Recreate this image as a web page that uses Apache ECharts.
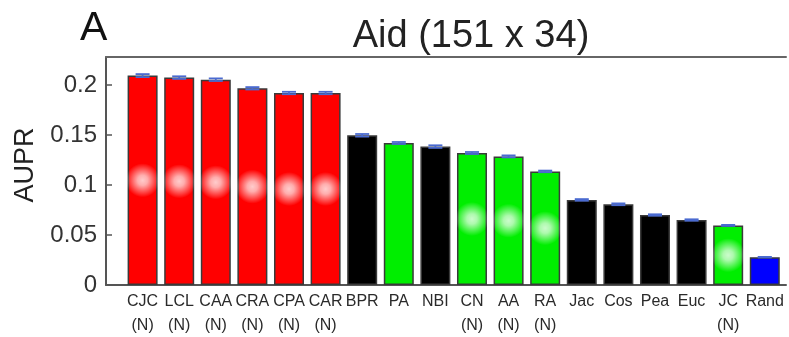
<!DOCTYPE html>
<html>
<head>
<meta charset="utf-8">
<script src="https://cdn.jsdelivr.net/npm/echarts@6/dist/echarts.min.js"></script>
<style>
html,body{margin:0;padding:0;background:#fff;}
#chart{width:789px;height:337px;}
</style>
</head>
<body>
<div id="chart"></div>
<script>
// ---- data ----
var methods = ['CJC','LCL','CAA','CRA','CPA','CAR','BPR','PA','NBI','CN','AA','RA','Jac','Cos','Pea','Euc','JC','Rand'];
var normalized = [true,true,true,true,true,true,false,false,false,true,true,true,false,false,false,false,true,false];
var kind = ['new','new','new','new','new','new','other','classic','other','classic','classic','classic','other','other','other','other','classic','random'];
var aupr = [0.2094,0.2074,0.2053,0.1967,0.1920,0.1920,0.1497,0.1420,0.1384,0.1320,0.1286,0.1136,0.0851,0.0807,0.0700,0.0650,0.0596,0.0278];
var errs = [0.0015,0.0013,0.0013,0.0012,0.0012,0.0012,0.0013,0.0010,0.0013,0.0010,0.0010,0.0008,0.0008,0.0009,0.0007,0.0007,0.0005,0.0003];
var yTicks = [0, 0.05, 0.1, 0.15, 0.2];

var palette = {new:'#ff0000', other:'#000000', classic:'#00ee00', random:'#0000ff'};
var FONT = '"Liberation Sans", Arial, Helvetica, sans-serif';

var barData = aupr.map(function(v,i){
  return {value:[i,v], itemStyle:{color:palette[kind[i]]}};
});
var errData = aupr.map(function(v,i){ return [i, v-errs[i], v+errs[i]]; });
var glowData = [];
aupr.forEach(function(v,i){ if(normalized[i]) glowData.push([i, v/2]); });

var chart = echarts.init(document.getElementById('chart'), null, {renderer:'canvas'});
chart.setOption({
  animation:false,
  backgroundColor:'#fff',
  title:[
    {text:'Aid (151 x 34)', left:466, top:13, textAlign:'center',
     textStyle:{fontFamily:FONT, fontSize:38, fontWeight:'normal', color:'#222'}},
    {text:'A', left:75, top:3,
     textStyle:{fontFamily:FONT, fontSize:41, fontWeight:'normal', color:'#111'}}
  ],
  grid:{left:106, right:3, top:57, bottom:52, containLabel:false, outerBoundsMode:'none'},
  xAxis:[{
    type:'value', min:-1, max:17.58, interval:1,
    splitLine:{show:false},
    axisTick:{show:false},
    axisLine:{show:true, onZero:false, lineStyle:{color:'#555', width:2}},
    axisLabel:{
      showMaxLabel:false, showMinLabel:false, margin:5,
      fontFamily:FONT, fontSize:16, color:'#2a2a2a', lineHeight:24,
      formatter:function(v){
        var i = Math.round(v);
        if (Math.abs(v-i)>1e-6 || i<0 || i>=methods.length) return '';
        return methods[i] + (normalized[i] ? '\n(N)' : '');
      }
    }
  },{
    type:'value', position:'top', min:-1, max:17.58,
    axisLine:{show:true, onZero:false, lineStyle:{color:'#666', width:2}},
    axisTick:{show:false}, axisLabel:{show:false}, splitLine:{show:false}
  }],
  yAxis:{
    type:'value', min:0, max:0.228, interval:0.05,
    name:'AUPR', nameLocation:'middle', nameGap:67, nameRotate:90,
    nameTextStyle:{fontFamily:FONT, fontSize:27, color:'#222', padding:[0,0,0,12]},
    splitLine:{show:false},
    axisLine:{show:true, onZero:false, lineStyle:{color:'#555', width:2}},
    axisTick:{show:true, inside:true, length:6, lineStyle:{color:'#555', width:1.5},
      customValues: yTicks},
    axisLabel:{
      fontFamily:FONT, fontSize:24, color:'#333', margin:9,
      customValues: yTicks,
      formatter:function(v){ return String(+v.toFixed(3)); }
    }
  },
  series:[
    {
      type:'bar', data:barData, barWidth:30,
      itemStyle:{borderColor:'#3a3a3a', borderWidth:1.5},
      z:2
    },
    {
      type:'scatter', data:glowData, symbol:'circle', symbolSize:34,
      itemStyle:{color:new echarts.graphic.RadialGradient(0.5,0.5,0.5,[
        {offset:0, color:'rgba(255,255,255,1)'},
        {offset:0.3, color:'rgba(255,255,255,0.85)'},
        {offset:1, color:'rgba(255,255,255,0)'}
      ])},
      silent:true, z:3
    },
    {
      type:'custom', data:errData, z:4,
      renderItem:function(params, api){
        var x = api.value(0);
        var lo = api.coord([x, api.value(1)]);
        var hi = api.coord([x, api.value(2)]);
        var hw = 7;
        var st = {stroke:'#4a6ad0', lineWidth:1.8};
        return {type:'group', children:[
          {type:'line', shape:{x1:lo[0], y1:lo[1], x2:hi[0], y2:hi[1]}, style:st},
          {type:'line', shape:{x1:lo[0]-hw, y1:lo[1], x2:lo[0]+hw, y2:lo[1]}, style:st},
          {type:'line', shape:{x1:hi[0]-hw, y1:hi[1], x2:hi[0]+hw, y2:hi[1]}, style:st}
        ]};
      }
    }
  ]
});
</script>
</body>
</html>
